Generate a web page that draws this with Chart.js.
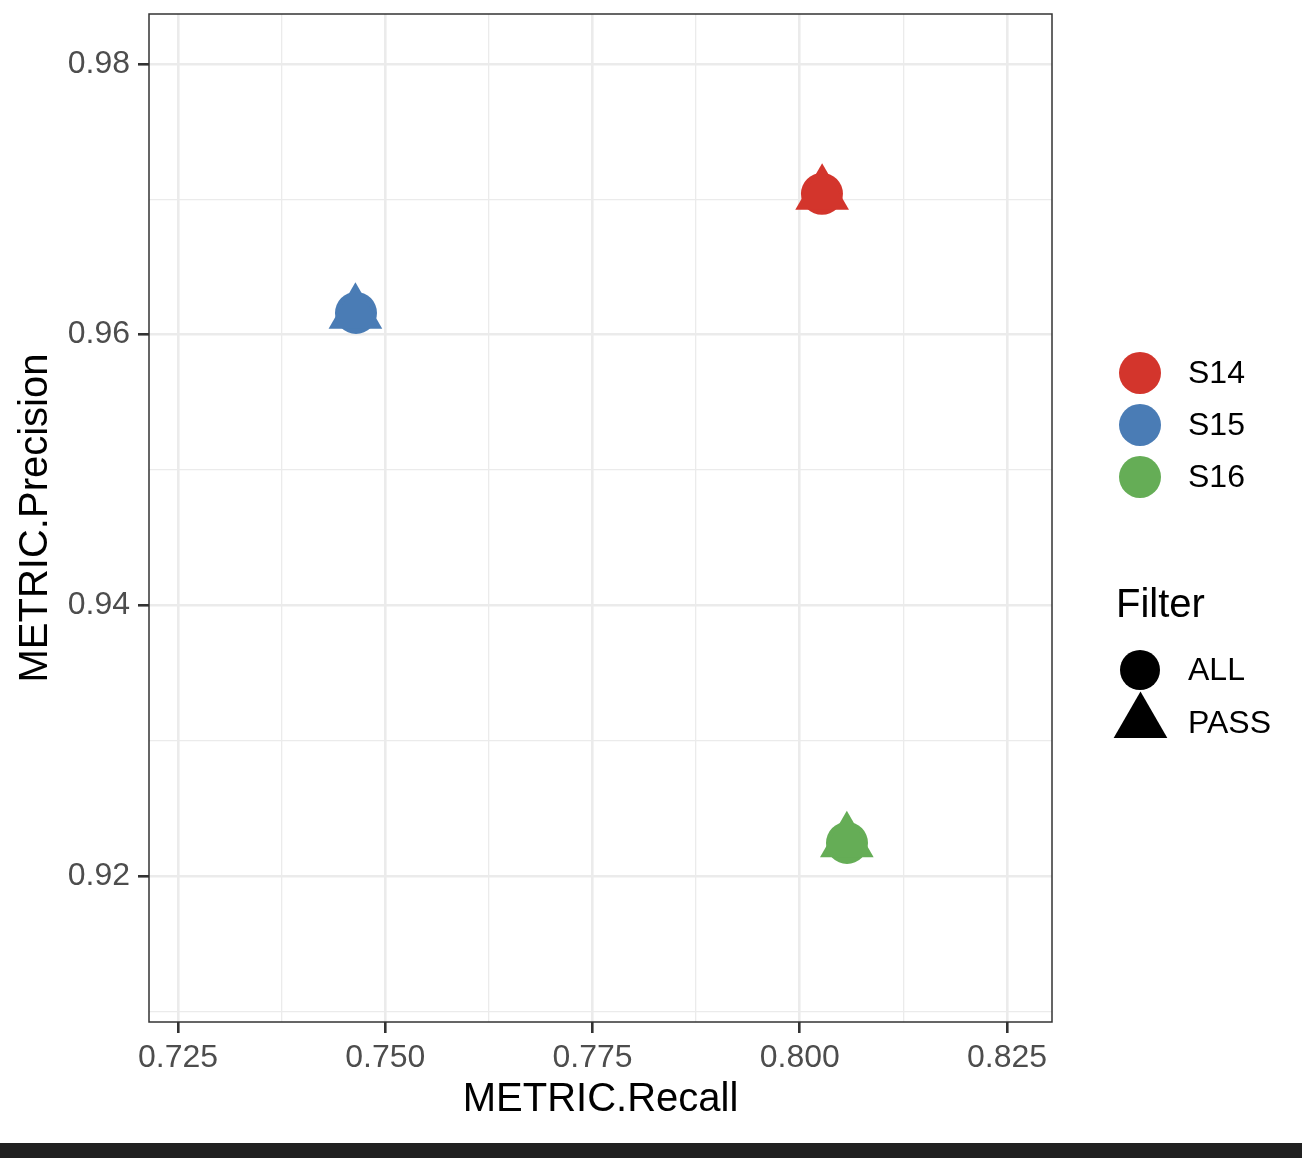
<!DOCTYPE html>
<html>
<head>
<meta charset="utf-8">
<script src="https://cdn.jsdelivr.net/npm/chart.js@4.4.1/dist/chart.umd.min.js"></script>
<style>
  html, body { margin: 0; padding: 0; background: #fff; }
  #wrap { position: relative; width: 1302px; height: 1143px; }
  #bar { width: 1302px; height: 15px; background: #212121; }
</style>
</head>
<body>
<div id="wrap"><canvas id="chart"></canvas></div>
<div id="bar"></div>
<script>
const samples = ["S14", "S15", "S16"];
const filters = ["ALL", "PASS"];
const sampleColors = ["#D3352C", "#4A7CB5", "#65AD56"];

// recall / precision per sample, ALL and PASS filter
const recallAll = [0.80268, 0.74647, 0.80570];
const precisionAll = [0.97040, 0.96160, 0.92244];
const recallPass = [0.80270, 0.74640, 0.80568];
const precisionPass = [0.97038, 0.96157, 0.92252];

const xTicks = [0.725, 0.75, 0.775, 0.8, 0.825];
const xTickLabels = ["0.725", "0.750", "0.775", "0.800", "0.825"];
const xMinor = [0.7375, 0.7625, 0.7875, 0.8125];
const yTicks = [0.92, 0.94, 0.96, 0.98];
const yTickLabels = ["0.92", "0.94", "0.96", "0.98"];
const yMinor = [0.91, 0.93, 0.95, 0.97];

const FONT = '"Liberation Sans", Arial, sans-serif';
Chart.defaults.font.family = FONT;

const majorIndex = (list, v) => list.findIndex((t) => Math.abs(t - v) < 1e-9);

const datasets = [];
samples.forEach((s, i) => {
  datasets.push({
    label: s + " PASS",
    data: [{ x: recallPass[i], y: precisionPass[i] }],
    pointStyle: "triangle",
    pointRadius: 31,
    backgroundColor: sampleColors[i],
    borderWidth: 0,
  });
  datasets.push({
    label: s + " ALL",
    data: [{ x: recallAll[i], y: precisionAll[i] }],
    pointStyle: "circle",
    pointRadius: 21,
    backgroundColor: sampleColors[i],
    borderWidth: 0,
  });
});

function gridFor(majors) {
  return {
    color: "#EBEBEB",
    lineWidth: (c) => (majorIndex(majors, c.tick.value) >= 0 ? 2.6 : 1.3),
    tickLength: 11,
    tickColor: (c) => (majorIndex(majors, c.tick.value) >= 0 ? "#333333" : "rgba(0,0,0,0)"),
    tickWidth: 2.6,
  };
}

const panelBorder = {
  id: "panelBorder",
  afterDatasetsDraw(chart) {
    const { ctx, chartArea: a } = chart;
    ctx.save();
    ctx.strokeStyle = "#333333";
    ctx.lineWidth = 1.5;
    ctx.strokeRect(a.left, a.top, a.right - a.left, a.bottom - a.top);
    ctx.restore();
  },
};

const sideLegend = {
  id: "sideLegend",
  afterDraw(chart) {
    const ctx = chart.ctx;
    ctx.save();
    ctx.textBaseline = "middle";
    ctx.textAlign = "left";
    ctx.font = "32px " + FONT;
    samples.forEach((s, i) => {
      const y = 373 + i * 52;
      ctx.fillStyle = sampleColors[i];
      ctx.beginPath();
      ctx.arc(1140, y, 21, 0, Math.PI * 2);
      ctx.fill();
      ctx.fillStyle = "#000";
      ctx.fillText(s, 1188, y + 1);
    });
    ctx.font = "40px " + FONT;
    ctx.fillText("Filter", 1116, 606);
    ctx.font = "32px " + FONT;
    // ALL -> circle
    ctx.beginPath();
    ctx.arc(1140, 670, 20, 0, Math.PI * 2);
    ctx.fill();
    ctx.fillText(filters[0], 1188, 671);
    // PASS -> triangle
    const cx = 1140.5, cy = 722.5, r = 31;
    ctx.beginPath();
    ctx.moveTo(cx, cy - r);
    ctx.lineTo(cx + r * Math.sin(2 * Math.PI / 3), cy + r / 2);
    ctx.lineTo(cx - r * Math.sin(2 * Math.PI / 3), cy + r / 2);
    ctx.closePath();
    ctx.fill();
    ctx.fillText(filters[1], 1188, 724);
    ctx.restore();
  },
};

new Chart(document.getElementById("chart"), {
  type: "scatter",
  data: { datasets },
  plugins: [panelBorder, sideLegend],
  options: {
    responsive: true,
    maintainAspectRatio: false,
    animation: false,
    events: [],
    layout: { autoPadding: false, padding: { top: 14, right: 250, bottom: 0, left: 0 } },
    plugins: { legend: { display: false }, tooltip: { enabled: false } },
    scales: {
      x: {
        type: "linear",
        min: 0.7215,
        max: 0.83043,
        afterFit: (s) => {
          s.height = 121;
          s.paddingLeft = 0;
          s.paddingRight = 0;
        },
        afterBuildTicks: (s) => {
          s.ticks = [...xTicks, ...xMinor].sort((a, b) => a - b).map((v) => ({ value: v }));
        },
        border: { display: false },
        grid: gridFor(xTicks),
        ticks: {
          autoSkip: false,
          maxRotation: 0,
          padding: 6,
          color: "#4D4D4D",
          font: { size: 32 },
          callback: (v) => {
            const k = majorIndex(xTicks, v);
            return k >= 0 ? xTickLabels[k] : "";
          },
        },
        title: {
          display: true,
          text: "METRIC.Recall",
          color: "#000",
          font: { size: 40 },
          padding: { top: 0, bottom: 19 },
        },
      },
      y: {
        type: "linear",
        min: 0.90921,
        max: 0.98369,
        afterFit: (s) => {
          s.width = 149;
          s.paddingTop = 0;
          s.paddingBottom = 0;
        },
        afterBuildTicks: (s) => {
          s.ticks = [...yTicks, ...yMinor].sort((a, b) => a - b).map((v) => ({ value: v }));
        },
        border: { display: false },
        grid: gridFor(yTicks),
        ticks: {
          autoSkip: false,
          padding: 8,
          color: "#4D4D4D",
          font: { size: 32 },
          callback: (v) => {
            const k = majorIndex(yTicks, v);
            return k >= 0 ? yTickLabels[k] : "";
          },
        },
        title: {
          display: true,
          text: "METRIC.Precision",
          color: "#000",
          font: { size: 40 },
          padding: { top: 12, bottom: 0 },
        },
      },
    },
  },
});
</script>
</body>
</html>
